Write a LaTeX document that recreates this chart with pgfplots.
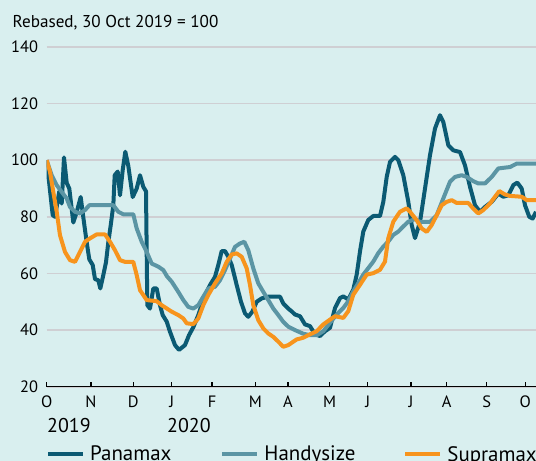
\documentclass[border=0pt]{standalone}
\usepackage{fontspec}
\setmainfont{PT Sans}
\usepackage{pgfplots}
\pgfplotsset{compat=1.18}
\definecolor{bgc}{HTML}{D9EFEF}
\definecolor{gridc}{HTML}{CFCFD3}
\definecolor{panamax}{HTML}{0B5A73}
\definecolor{handy}{HTML}{5B95A4}
\definecolor{supra}{HTML}{F7941D}
\begin{document}
\begin{tikzpicture}
\fill[bgc] (0bp,0bp) rectangle (536bp,461bp);
\useasboundingbox (0bp,0bp) rectangle (536bp,461bp);
\node[anchor=base west, inner sep=0pt, font=\fontsize{17.2}{19}\selectfont] at (12.5bp,433bp) {Rebased, 30 Oct 2019 = 100};
\node[anchor=base west, inner sep=0pt, font=\fontsize{20}{22}\selectfont] at (47bp,28.3bp) {2019};
\node[anchor=base west, inner sep=0pt, font=\fontsize{20}{22}\selectfont] at (167bp,28.3bp) {2020};
\begin{axis}[
  at={(46.7bp,74.3bp)}, anchor=south west, scale only axis,
  width=489.3bp, height=339.7bp,
  xmin=46.7, xmax=536, ymin=20, ymax=140,
  axis x line*=bottom, axis y line*=left,
  y axis line style={draw=none},
  x axis line style={black, line width=1.5bp},
  ytick={20,40,60,80,100,120,140},
  ytick style={draw=none},
  ymajorgrids, grid style={gridc, line width=1.6bp},
  xtick={46.7,91,133.3,171.7,212,255.3,288,329.7,367.7,411,446.7,486.7,525.3},
  xticklabels={O,N,D,J,F,M,A,M,J,J,A,S,O},
  tick align=inside, major tick length=5bp,
  xtick style={black, line width=1.5bp},
  /pgf/number format/assume math mode=true,
  tick label style={font=\fontsize{16.5}{18}\selectfont},
  yticklabel style={anchor=east, inner sep=0pt, xshift=-8.5bp},
  xticklabel style={anchor=north, inner sep=0pt, yshift=-9bp},
  every axis plot/.append style={line width=4bp, line join=round, no marks},
  legend columns=3,
  legend style={at={(-0.0014,-0.199)}, anchor=west, draw=none, fill=none,
    inner sep=0pt, font=\fontsize{21}{23}\selectfont,
    /tikz/every odd column/.append style={column sep=3bp},
    /tikz/column 2/.style={column sep=47bp},
    /tikz/column 4/.style={column sep=46bp}},
  legend image code/.code={\draw[#1, line width=4bp] (0bp,0bp) -- (35bp,0bp);},
]
\addplot[panamax] coordinates {
(46.7,100) (52.7,80.6) (55,80) (59.3,89) (61.7,84.7) (64,101) (66.7,92) (69.3,90)
(73.3,78) (76.7,81.7) (80.7,87) (84,78) (86.7,71) (89.3,65) (92.7,63) (95,58)
(98.3,57.6) (100.3,54.7) (103.3,59.4) (106,64) (108.3,71) (110.7,77) (113.3,84)
(114.7,94.7) (117.7,96) (120,87.6) (122.7,96.5) (125.3,103) (128.3,98) (130.7,92)
(132.7,87) (136.7,90) (140,94.7) (143.3,90.6) (146,89) (147.3,48.8) (150,47.6)
(153.3,54.7) (156.7,54.7) (160,48.8) (162.7,45.3) (166.7,43) (170,39.4) (175,34.7)
(179,33) (185,34.7) (189,38.2) (193.3,41) (198.3,45.3) (205,52.4) (210,55.9)
(215,58.8) (218.3,63) (221.7,67.9) (225,67.9) (228.3,65.9) (231.7,63) (236.7,55.9)
(241,50) (245,45.9) (248.3,44.7) (252.3,46.5) (256.7,50) (261.7,51.2) (268.3,51.8)
(280,51.8) (283.3,49.4) (288.3,47.6) (292,46.5) (295,45.5) (300,44.9) (305,42)
(310,41.4) (315,38.5) (320,37.9) (325,39.6) (330,40.8) (335,47.8) (340,51.3)
(343.3,51.9) (348.3,50.8) (353.3,54.3) (356.7,59.6) (360,67.8) (363.3,74.8)
(368.3,78.9) (373.3,80.3) (380,80.3) (383.3,85.3) (386.7,94.1) (390,99.4)
(395,101.2) (398.3,100) (403.3,94.7) (408.3,85.3) (411.7,77.1) (415,72.5)
(420,78.2) (425,90) (430,101.8) (435,111.2) (440,115.9) (443.3,113.5) (448.3,105.3)
(453.3,103.5) (460,102.9) (465,98.2) (470,90.6) (475,84.1) (480,81.8) (485,83.5)
(491.7,85.3) (498.3,88.2) (503.3,87.1) (508.3,87.6) (513.3,91.2) (517.3,92.1)
(521.7,90) (525,84.1) (529.3,80) (532.7,79.4) (536,81.8)
};
\addlegendentry{Panamax}
\addplot[handy] coordinates {
(46.7,100) (51.7,94.7) (56.7,91.2) (61.7,88.8) (66.7,86.5) (70,83.5) (75,81.8)
(80,81.2) (85,82.4) (89.3,84.1) (113.3,84.1) (118.3,81.8) (123.3,80.9) (133.3,80.9)
(136.7,75.9) (141.7,71.2) (146.7,67.6) (151.7,63.5) (158.3,62.4) (163.3,61.2)
(167,59) (171.7,57.1) (178.3,53.5) (183.3,50.6) (188.3,48.2) (193.3,47.6)
(198.3,48.8) (203.3,51.8) (208.3,54.7) (215,55.3) (220,57.6) (225,61.2) (230,65.3)
(235,69.4) (240,70.6) (244.3,71.2) (248.3,68.2) (253.3,61.8) (258.3,56.5)
(263.3,53.5) (268.3,50.6) (273.3,47.6) (278.3,45.3) (283.3,42.9) (288.3,41.2)
(295,40) (303.3,38.7) (310,38.2) (316.7,38.2) (323.3,39.6) (330,42.6) (336.7,45.5)
(343.3,47.8) (348.3,50.2) (353.3,53.7) (358.3,56.6) (363.3,59.6) (368.3,61.9)
(373.3,64.2) (378.3,67.2) (383.3,69.5) (388.3,71.3) (393.3,73.6) (398.3,74.8)
(403.3,76.6) (408.3,78.3) (415,79.2) (420,78.2) (430,78.2) (436.7,80.6)
(443.3,86.5) (450,92.4) (455,94.1) (461.7,94.7) (466.7,94.1) (473.3,92.6)
(478.3,91.8) (485,91.8) (491.7,94.1) (498.3,97.1) (510,97.6) (516.7,98.8) (536,98.8)
};
\addlegendentry{Handysize}
\addplot[supra] coordinates {
(46.7,100) (50,95.9) (53.3,88.8) (56.7,81.8) (60,73.5) (65,67.6) (70,64.7) (75,64.1)
(80,67.6) (85,71.2) (90,72.4) (96.7,73.8) (105,73.8) (110,71.2) (115,68.2)
(120,64.7) (125,64.1) (133.3,64.1) (136.7,59.4) (140,54.1) (146.7,50.6)
(156.7,50.2) (161.7,48.8) (171.7,46.5) (178.3,45.3) (183.3,44.1) (186.7,42.4)
(193.3,42.1) (198.3,44.1) (203.3,48.8) (208.3,52.4) (215,56.5) (221.7,60)
(226.7,64.1) (231.7,66.7) (236.7,67.1) (241.7,65.9) (246.7,61.8) (250,55.9)
(253.3,48.8) (258.3,43.5) (263.3,40.6) (268.3,38.8) (273.3,37.6) (278.3,35.9)
(283.3,34.1) (288.3,34.7) (293.3,35.9) (296.7,36.7) (303.3,37.3) (310,38.5)
(316.7,39.6) (323.3,42) (330,43.7) (335,44.9) (343.3,44.3) (348.3,46.7)
(353.3,52.5) (360,56) (366.7,59.6) (373.3,60.1) (380,61.3) (385,64.2) (388.3,72.5)
(393.3,78.3) (400,81.8) (406.7,83) (410,81.8) (416.7,78.8) (421.7,75.9)
(426.7,74.7) (431.7,77.1) (436.7,80.6) (441.7,84.1) (446.7,85.3) (451.7,85.9)
(456.7,84.9) (468.3,84.9) (473.3,82.9) (478.3,81.2) (483.3,82.4) (490,84.7)
(495,87.1) (499.3,89.1) (505,87.9) (510,87.4) (521.7,87.1) (526.7,85.9) (536,85.9)
};
\addlegendentry{Supramax}
\end{axis}
\end{tikzpicture}
\end{document}
